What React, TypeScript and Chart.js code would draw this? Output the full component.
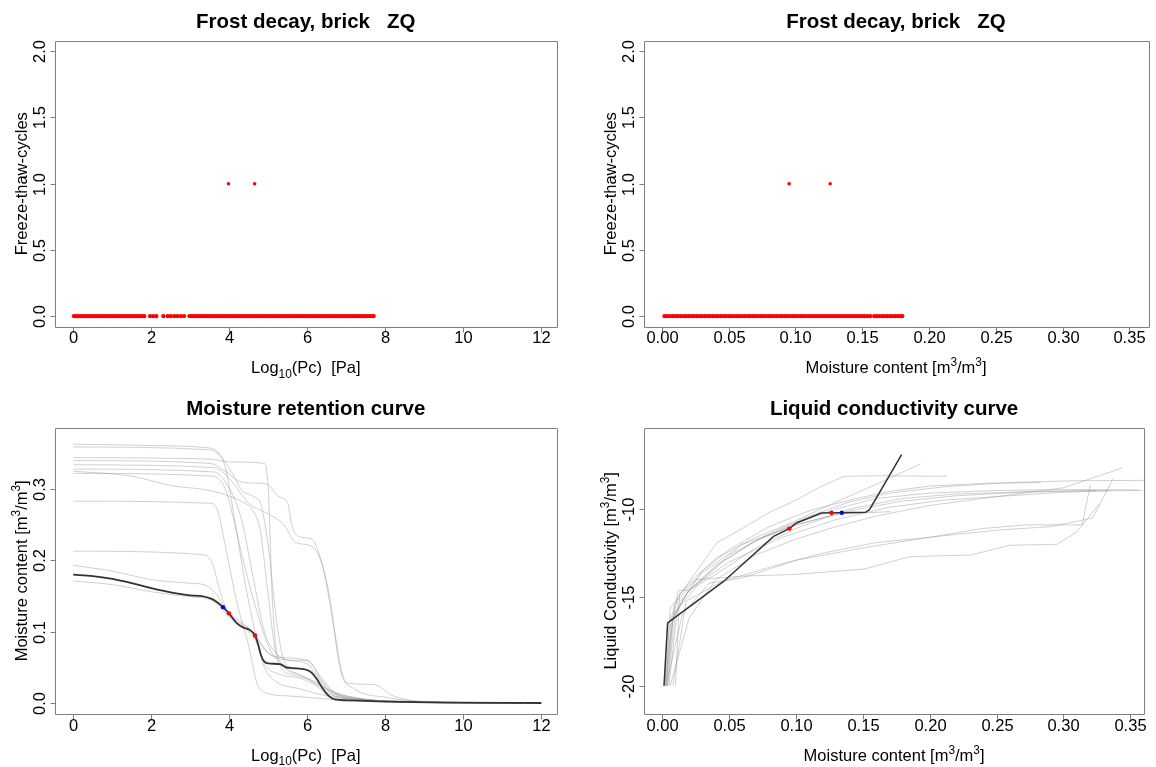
import React, { useEffect, useRef } from "react";
import { Chart, registerables } from "chart.js";
Chart.register(...registerables);

// ---------------- data ----------------
// Panel 1: freeze-thaw cycles vs log10(Pc)
const frostLogPcAtZero = [
  0.02, 0.08, 0.14, 0.2, 0.26, 0.32, 0.38, 0.44, 0.5, 0.56, 0.62, 0.68, 0.74, 0.8, 0.86, 0.92,
  0.98, 1.04, 1.1, 1.16, 1.22, 1.28, 1.34, 1.4, 1.46, 1.52, 1.58, 1.64, 1.7, 1.76, 1.82,
  1.97, 2.05, 2.13, 2.31, 2.42, 2.5, 2.59, 2.67, 2.76, 2.84,
  2.98, 3.04, 3.1, 3.16, 3.22, 3.28, 3.34, 3.4, 3.46, 3.52, 3.58, 3.64, 3.7, 3.76, 3.82, 3.88,
  3.94, 4.0, 4.06, 4.12, 4.18, 4.24, 4.3, 4.36, 4.42, 4.48, 4.54, 4.6, 4.66, 4.72, 4.78, 4.84,
  4.9, 4.96, 5.02, 5.08, 5.14, 5.2, 5.26, 5.32, 5.38, 5.44, 5.5, 5.56, 5.62, 5.68, 5.74, 5.8,
  5.86, 5.92, 5.98, 6.04, 6.1, 6.16, 6.22, 6.28, 6.34, 6.4, 6.46, 6.52, 6.58, 6.64, 6.7, 6.76,
  6.82, 6.88, 6.94, 7.0, 7.06, 7.12, 7.18, 7.24, 7.3, 7.36, 7.42, 7.48, 7.54, 7.6, 7.66, 7.7,
];
const frostLogPcAtOne = [3.98, 4.65];

// Panel 2: freeze-thaw cycles vs moisture content
const frostMoistAtZero = [
  0.002, 0.004, 0.006, 0.008, 0.01, 0.012, 0.014, 0.016, 0.018, 0.02, 0.022, 0.024, 0.026,
  0.028, 0.03, 0.032, 0.034, 0.036, 0.038, 0.04, 0.042, 0.044, 0.046, 0.048, 0.05, 0.052,
  0.054, 0.056, 0.058, 0.06, 0.062, 0.064, 0.066, 0.068, 0.07, 0.072, 0.074, 0.076, 0.078,
  0.08, 0.082, 0.084, 0.086, 0.088, 0.09, 0.092, 0.094, 0.096, 0.098, 0.1, 0.102, 0.104,
  0.106, 0.108, 0.11, 0.112, 0.114, 0.116, 0.118, 0.12, 0.122, 0.124, 0.126, 0.128, 0.13,
  0.132, 0.134, 0.136, 0.138, 0.14, 0.142, 0.144, 0.146, 0.148, 0.15, 0.152, 0.154, 0.156,
  0.159, 0.161, 0.163, 0.165, 0.167, 0.169, 0.171, 0.173, 0.175, 0.177, 0.179, 0.18,
];
const frostMoistAtOne = [0.0953, 0.126];

// Tick values / labels
const logPcTicks = [0, 2, 4, 6, 8, 10, 12];
const logPcTickLabels = ["0", "2", "4", "6", "8", "10", "12"];
const cyclesTicks = [0, 0.5, 1, 1.5, 2];
const cyclesTickLabels = ["0.0", "0.5", "1.0", "1.5", "2.0"];
const moistTicks = [0, 0.05, 0.1, 0.15, 0.2, 0.25, 0.3, 0.35];
const moistTickLabels = ["0.00", "0.05", "0.10", "0.15", "0.20", "0.25", "0.30", "0.35"];
const mrcTicks = [0, 0.1, 0.2, 0.3];
const mrcTickLabels = ["0.0", "0.1", "0.2", "0.3"];
const condTicks = [-20, -15, -10];
const condTickLabels = ["-20", "-15", "-10"];

// Panel 3: moisture retention curves [log10(Pc), moisture]
const mrcBlack: [number, number][] = [
  [0, 0.18], [0.5, 0.178], [1.0, 0.174], [1.5, 0.168], [2.0, 0.161], [2.5, 0.155], [3.0, 0.151],
  [3.3, 0.15], [3.55, 0.146], [3.7, 0.141], [3.84, 0.1344], [3.99, 0.1257], [4.19, 0.112],
  [4.35, 0.106], [4.5, 0.103], [4.6, 0.099], [4.66, 0.0947], [4.74, 0.082], [4.82, 0.066],
  [4.9, 0.058], [5.0, 0.0555], [5.3, 0.0545], [5.45, 0.05], [5.6, 0.049], [5.95, 0.047],
  [6.1, 0.043], [6.25, 0.033], [6.4, 0.02], [6.55, 0.01], [6.7, 0.005], [7.0, 0.0038],
  [8.0, 0.002], [9.5, 0.0006], [12, 0],
];
const mrcGray1: [number, number][] = [
  [0, 0.363], [2, 0.361], [3.4, 0.358], [3.7, 0.352], [3.9, 0.33], [4.1, 0.27], [4.4, 0.17],
  [4.7, 0.09], [4.9, 0.05], [5.2, 0.03], [5.8, 0.02], [6.5, 0.01], [7.5, 0.004], [9, 0.001], [11.5, 0],
];
const mrcGray2: [number, number][] = [
  [0, 0.359], [3.5, 0.355], [3.8, 0.345], [4.1, 0.32], [4.3, 0.3], [4.6, 0.29], [4.8, 0.28],
  [5.0, 0.22], [5.2, 0.12], [5.4, 0.06], [5.8, 0.04], [6.3, 0.025], [7, 0.01], [8, 0.003], [11.5, 0],
];
const mrcGray3: [number, number][] = [
  [0, 0.344], [3.5, 0.342], [4.0, 0.338], [4.9, 0.336], [5.0, 0.3], [5.1, 0.15], [5.25, 0.06],
  [5.6, 0.04], [6.2, 0.03], [6.6, 0.015], [7.5, 0.005], [9, 0.001], [11.5, 0],
];
const mrcGray4: [number, number][] = [
  [0, 0.34], [3.5, 0.336], [3.9, 0.325], [4.3, 0.31], [4.8, 0.308], [5.0, 0.306], [5.25, 0.29],
  [5.5, 0.28], [5.6, 0.25], [5.8, 0.233], [6.1, 0.23], [6.3, 0.21], [6.6, 0.14], [6.8, 0.06],
  [7.0, 0.028], [7.7, 0.026], [8.2, 0.01], [9, 0.002], [11.5, 0],
];
const mrcGray5: [number, number][] = [
  [0, 0.334], [3.6, 0.33], [4.0, 0.315], [4.5, 0.28], [5.0, 0.265], [5.4, 0.25], [5.7, 0.225],
  [6.1, 0.22], [6.4, 0.19], [6.7, 0.1], [6.9, 0.04], [7.2, 0.02], [8, 0.008], [9, 0.002], [11.5, 0],
];
const mrcGray6: [number, number][] = [
  [0, 0.328], [3.6, 0.324], [3.9, 0.31], [4.3, 0.26], [4.6, 0.18], [4.9, 0.1], [5.2, 0.07],
  [5.6, 0.06], [6.0, 0.06], [6.3, 0.04], [6.7, 0.015], [7.5, 0.005], [9, 0.001], [11.5, 0],
];
const mrcGray7: [number, number][] = [
  [0, 0.325], [1.5, 0.318], [2.5, 0.305], [3.5, 0.298], [4.0, 0.29], [4.3, 0.283], [4.6, 0.27],
  [4.8, 0.24], [5.0, 0.15], [5.2, 0.07], [5.6, 0.05], [6.1, 0.045], [6.5, 0.02], [7.2, 0.008],
  [9, 0.001], [11.5, 0],
];
const mrcGray8: [number, number][] = [
  [0, 0.322], [3.6, 0.318], [3.9, 0.3], [4.1, 0.26], [4.4, 0.19], [4.7, 0.13], [5.0, 0.08],
  [5.4, 0.05], [6.0, 0.035], [6.6, 0.012], [7.5, 0.004], [11.5, 0],
];
const mrcGray9: [number, number][] = [
  [0, 0.283], [3.5, 0.28], [3.7, 0.27], [3.9, 0.22], [4.2, 0.14], [4.5, 0.08], [4.7, 0.03],
  [4.9, 0.015], [5.5, 0.01], [7, 0.004], [11, 0],
];
const mrcGray10: [number, number][] = [
  [0, 0.213], [3.3, 0.208], [3.55, 0.198], [3.75, 0.16], [3.9, 0.135], [4.1, 0.122], [4.5, 0.105],
  [4.8, 0.085], [5.0, 0.07], [5.5, 0.06], [6.0, 0.055], [6.3, 0.035], [6.7, 0.01], [8, 0.003], [11.5, 0],
];
const mrcGray11: [number, number][] = [
  [0, 0.193], [1, 0.185], [2, 0.173], [3, 0.168], [3.4, 0.165], [3.7, 0.15], [3.9, 0.132],
  [4.2, 0.115], [4.6, 0.1], [4.9, 0.075], [5.2, 0.065], [5.8, 0.062], [6.1, 0.055], [6.4, 0.03],
  [6.8, 0.01], [8, 0.003], [11.5, 0],
];
const mrcGray12: [number, number][] = [
  [0, 0.171], [1, 0.166], [2, 0.156], [3, 0.149], [3.5, 0.145], [3.8, 0.133], [4.0, 0.12],
  [4.4, 0.105], [4.7, 0.085], [4.9, 0.055], [5.3, 0.04], [5.8, 0.035], [6.2, 0.025], [6.6, 0.008],
  [8, 0.002], [11.5, 0],
];
const mrcRedPoints: [number, number][] = [[3.99, 0.1257], [4.66, 0.0947]];
const mrcBluePoints: [number, number][] = [[3.84, 0.1344]];

// Panel 4: liquid conductivity curves [moisture, log conductivity]
const condBlack: [number, number][] = [
  [0.0014, -20], [0.0041, -16.45], [0.0459, -14.1], [0.0833, -11.55], [0.0951, -11.11],
  [0.1004, -10.79], [0.119, -10.23], [0.1266, -10.21], [0.1343, -10.21], [0.152, -10.19],
  [0.155, -10.04], [0.179, -6.92],
];
const condGray1: [number, number][] = [
  [0.0015, -20], [0.0035, -16.8], [0.012, -15.0], [0.025, -13.6], [0.041, -11.9], [0.06, -11.1],
  [0.08, -10.2], [0.1, -9.5], [0.118, -8.75], [0.136, -8.15], [0.16, -8.12], [0.213, -8.15],
];
const condGray2: [number, number][] = [
  [0.003, -20], [0.006, -15.6], [0.02, -14.2], [0.04, -12.8], [0.07, -11.6], [0.096, -10.8],
  [0.13, -9.6], [0.16, -8.6], [0.193, -7.45],
];
const condGray3: [number, number][] = [
  [0.002, -20], [0.005, -16.8], [0.015, -15.2], [0.03, -13.5], [0.05, -12.3], [0.08, -11.0],
  [0.11, -10.1], [0.14, -9.5], [0.17, -9.0], [0.2, -8.7], [0.24, -8.55], [0.283, -8.5],
];
const condGray4: [number, number][] = [
  [0.003, -20], [0.008, -16.2], [0.02, -14.6], [0.04, -13.2], [0.07, -11.8], [0.1, -10.8],
  [0.13, -10.0], [0.16, -9.4], [0.2, -9.1], [0.25, -8.95], [0.3, -8.9], [0.356, -8.92],
];
const condGray5: [number, number][] = [
  [0.004, -20], [0.01, -15.8], [0.03, -14.0], [0.05, -12.6], [0.08, -11.4], [0.11, -10.4],
  [0.14, -9.6], [0.17, -9.1], [0.21, -8.75], [0.26, -8.5], [0.31, -8.4], [0.3605, -8.38],
];
const condGray6: [number, number][] = [
  [0.005, -20], [0.012, -15.3], [0.025, -14.3], [0.05, -13.0], [0.09, -11.6], [0.13, -10.6],
  [0.17, -9.9], [0.21, -9.5], [0.25, -9.3], [0.3, -8.8], [0.344, -7.68],
];
const condGray7: [number, number][] = [
  [0.003, -20], [0.015, -16.0], [0.035, -14.2], [0.06, -13.9], [0.1, -12.9], [0.15, -12.2],
  [0.2, -11.6], [0.25, -11.2], [0.29, -11.0], [0.31, -10.7], [0.322, -10.5], [0.337, -8.3],
];
const condGray8: [number, number][] = [
  [0.01, -20], [0.013, -14.8], [0.025, -14.0], [0.06, -13.8], [0.1, -13.7], [0.151, -13.4],
  [0.185, -12.7], [0.231, -12.6], [0.26, -12.05], [0.295, -12.0], [0.31, -11.3], [0.327, -9.7],
];
const condGray9: [number, number][] = [
  [0.008, -20], [0.018, -15.2], [0.045, -14.1], [0.08, -13.3], [0.12, -12.5], [0.16, -11.9],
  [0.2, -11.6], [0.24, -11.1], [0.272, -10.9], [0.314, -10.9], [0.32, -8.65],
];
const condGray10: [number, number][] = [
  [0.004, -20], [0.009, -15.4], [0.03, -13.6], [0.06, -12.0], [0.1, -10.9], [0.14, -10.1],
  [0.18, -9.55], [0.22, -9.25], [0.27, -9.05], [0.325, -8.95],
];
const condGray11: [number, number][] = [
  [0.006, -20], [0.02, -16.2], [0.04, -14.0], [0.07, -12.6], [0.1, -11.7], [0.13, -11.0],
  [0.16, -10.4], [0.2, -9.8], [0.25, -9.3], [0.3, -9.05], [0.334, -8.97],
];
const condGray12: [number, number][] = [
  [0.003, -20], [0.007, -16.2], [0.02, -14.6], [0.045, -13.0], [0.07, -11.8], [0.1, -10.9],
  [0.13, -10.3], [0.171, -10.15],
];
const condGray13: [number, number][] = [
  [0.002, -20], [0.006, -17.2], [0.012, -14.6], [0.02, -14.6], [0.04, -13.7], [0.07, -12.2],
  [0.1, -11.1], [0.14, -10.0], [0.18, -9.4], [0.22, -9.15], [0.28, -9.0], [0.359, -8.95],
];
const condRedPoints: [number, number][] = [[0.0951, -11.11], [0.1266, -10.21]];
const condBluePoints: [number, number][] = [[0.1343, -10.21]];

// ---------------- styling / layout ----------------
const W = 1156;
const H = 767;
const FONT = '"Liberation Sans", Arial, Helvetica, sans-serif';
const TEXT = "#000000";
const BOX = "#808080";
const RED = "#ff0000";
const BLUE = "#0000ff";
const GRAY = "rgba(150,150,150,0.45)";
const DARK = "#333333";

type Seg = { t: string; s?: "sub" | "sup" };
type Box = { l: number; t: number; r: number; b: number };

const toPts = (a: [number, number][]) => a.map(([x, y]) => ({ x, y }));

function pointSet(data: { x: number; y: number }[], color: string, r: number) {
  return {
    data,
    showLine: false,
    pointRadius: r,
    pointBackgroundColor: color,
    pointBorderWidth: 0,
    borderColor: color,
  };
}
function lineSet(a: [number, number][], color: string, w: number, smooth: boolean) {
  return {
    data: toPts(a),
    showLine: true,
    pointRadius: 0,
    borderColor: color,
    borderWidth: w,
    fill: false,
    cubicInterpolationMode: smooth ? "monotone" : "default",
    tension: 0,
  };
}

function measureRich(ctx: CanvasRenderingContext2D, segs: Seg[], size: number) {
  let w = 0;
  for (const s of segs) {
    const sz = s.s ? size * 0.72 : size;
    ctx.font = `${sz}px ${FONT}`;
    w += ctx.measureText(s.t).width;
  }
  return w;
}
function drawRich(ctx: CanvasRenderingContext2D, segs: Seg[], cx: number, base: number, size: number) {
  const w = measureRich(ctx, segs, size);
  let x = cx - w / 2;
  ctx.textAlign = "left";
  ctx.textBaseline = "alphabetic";
  for (const s of segs) {
    const sz = s.s ? size * 0.72 : size;
    ctx.font = `${sz}px ${FONT}`;
    const dy = s.s === "sub" ? size * 0.28 : s.s === "sup" ? -size * 0.42 : 0;
    ctx.fillText(s.t, x, base + dy);
    x += ctx.measureText(s.t).width;
  }
}

interface Panel {
  box: Box;
  xr: [number, number];
  yr: [number, number];
  xTicks: number[];
  xLabels: string[];
  yTicks: number[];
  yLabels: string[];
  title: string;
  xTitle: Seg[];
  yTitle: Seg[];
  datasets: any[];
}

const logPcTitle: Seg[] = [{ t: "Log" }, { t: "10", s: "sub" }, { t: "(Pc)  [Pa]" }];
const moistTitle: Seg[] = [
  { t: "Moisture content [m" }, { t: "3", s: "sup" }, { t: "/m" }, { t: "3", s: "sup" }, { t: "]" },
];
const condTitle: Seg[] = [
  { t: "Liquid Conductivity [m" }, { t: "3", s: "sup" }, { t: "/m" }, { t: "3", s: "sup" }, { t: "]" },
];

const grayMRC = [mrcGray1, mrcGray2, mrcGray3, mrcGray4, mrcGray5, mrcGray6, mrcGray7, mrcGray8, mrcGray9, mrcGray10, mrcGray11, mrcGray12];
const grayCond = [condGray1, condGray2, condGray3, condGray4, condGray5, condGray6, condGray7, condGray8, condGray9, condGray10, condGray11, condGray12, condGray13];

const panels: Panel[] = [
  {
    box: { l: 54.6, t: 40.7, r: 557, b: 326.7 },
    xr: [-0.477, 12.4],
    yr: [-0.08, 2.08],
    xTicks: logPcTicks,
    xLabels: logPcTickLabels,
    yTicks: cyclesTicks,
    yLabels: cyclesTickLabels,
    title: "Frost decay, brick   ZQ",
    xTitle: logPcTitle,
    yTitle: [{ t: "Freeze-thaw-cycles" }],
    datasets: [
      pointSet(frostLogPcAtOne.map((x) => ({ x, y: 1 })), RED, 1.8),
      pointSet(frostLogPcAtZero.map((x) => ({ x, y: 0 })), RED, 2.2),
    ],
  },
  {
    box: { l: 643.5, t: 40.7, r: 1148.5, b: 326.7 },
    xr: [-0.0137, 0.3643],
    yr: [-0.08, 2.08],
    xTicks: moistTicks,
    xLabels: moistTickLabels,
    yTicks: cyclesTicks,
    yLabels: cyclesTickLabels,
    title: "Frost decay, brick   ZQ",
    xTitle: moistTitle,
    yTitle: [{ t: "Freeze-thaw-cycles" }],
    datasets: [
      pointSet(frostMoistAtOne.map((x) => ({ x, y: 1 })), RED, 1.8),
      pointSet(frostMoistAtZero.map((x) => ({ x, y: 0 })), RED, 2.2),
    ],
  },
  {
    box: { l: 54.6, t: 427.7, r: 557, b: 714 },
    xr: [-0.477, 12.4],
    yr: [-0.0154, 0.386],
    xTicks: logPcTicks,
    xLabels: logPcTickLabels,
    yTicks: mrcTicks,
    yLabels: mrcTickLabels,
    title: "Moisture retention curve",
    xTitle: logPcTitle,
    yTitle: moistTitle,
    datasets: [
      pointSet(toPts(mrcBluePoints), BLUE, 2.2),
      pointSet(toPts(mrcRedPoints), RED, 2.2),
      lineSet(mrcBlack, DARK, 1.8, true),
      ...grayMRC.map((g) => lineSet(g, GRAY, 1, true)),
    ],
  },
  {
    box: { l: 643.7, t: 427.7, r: 1144.4, b: 714 },
    xr: [-0.0138, 0.3605],
    yr: [-21.6, -5.4],
    xTicks: moistTicks,
    xLabels: moistTickLabels,
    yTicks: condTicks,
    yLabels: condTickLabels,
    title: "Liquid conductivity curve",
    xTitle: moistTitle,
    yTitle: condTitle,
    datasets: [
      pointSet(toPts(condBluePoints), BLUE, 2.2),
      pointSet(toPts(condRedPoints), RED, 2.2),
      lineSet(condBlack, DARK, 1.5, false),
      ...grayCond.map((g) => lineSet(g, GRAY, 1, false)),
    ],
  },
];

function rAxesPlugin(p: Panel) {
  return {
    id: "rAxes",
    afterDraw(chart: any) {
      const ctx: CanvasRenderingContext2D = chart.ctx;
      const xs = chart.scales.x;
      const ys = chart.scales.y;
      const { l, t, r, b } = p.box;
      ctx.save();
      ctx.strokeStyle = BOX;
      ctx.lineWidth = 1;
      ctx.beginPath();
      ctx.rect(Math.round(l) + 0.5, Math.round(t) + 0.5, Math.round(r) - Math.round(l), Math.round(b) - Math.round(t));
      ctx.stroke();
      ctx.fillStyle = TEXT;
      ctx.font = `16.5px ${FONT}`;
      ctx.textAlign = "center";
      ctx.textBaseline = "alphabetic";
      const bb = Math.round(b) + 0.5;
      p.xTicks.forEach((v, i) => {
        const px = Math.round(xs.getPixelForValue(v)) + 0.5;
        ctx.beginPath();
        ctx.moveTo(px, bb);
        ctx.lineTo(px, bb + 5);
        ctx.stroke();
        ctx.fillText(p.xLabels[i], px, b + 16.5);
      });
      const ll = Math.round(l) + 0.5;
      p.yTicks.forEach((v, i) => {
        const py = Math.round(ys.getPixelForValue(v)) + 0.5;
        ctx.beginPath();
        ctx.moveTo(ll - 5, py);
        ctx.lineTo(ll, py);
        ctx.stroke();
        ctx.save();
        ctx.translate(l - 10, py);
        ctx.rotate(-Math.PI / 2);
        ctx.textAlign = "center";
        ctx.fillText(p.yLabels[i], 0, 0);
        ctx.restore();
      });
      ctx.font = `bold 20.5px ${FONT}`;
      ctx.textAlign = "center";
      ctx.fillText(p.title, (l + r) / 2, t - 13);
      drawRich(ctx, p.xTitle, (l + r) / 2, b + 46.5, 16.5);
      ctx.save();
      ctx.translate(l - 28, (t + b) / 2);
      ctx.rotate(-Math.PI / 2);
      drawRich(ctx, p.yTitle, 0, 0, 16.5);
      ctx.restore();
      ctx.restore();
    },
  };
}

function makeChart(canvas: HTMLCanvasElement, p: Panel) {
  return new Chart(canvas, {
    type: "scatter",
    data: { datasets: p.datasets },
    options: {
      animation: false,
      responsive: false,
      maintainAspectRatio: false,
      devicePixelRatio: 1,
      events: [],
      layout: {
        padding: { left: p.box.l, top: p.box.t, right: W - p.box.r, bottom: H - p.box.b },
      },
      plugins: {
        legend: { display: false },
        tooltip: { enabled: false },
        title: { display: false },
      },
      scales: {
        x: { type: "linear", min: p.xr[0], max: p.xr[1], display: false },
        y: { type: "linear", min: p.yr[0], max: p.yr[1], display: false },
      },
    } as any,
    plugins: [rAxesPlugin(p)],
  });
}

export default function App() {
  const refs = useRef<(HTMLCanvasElement | null)[]>([]);
  useEffect(() => {
    const charts = panels.map((p, i) => makeChart(refs.current[i] as HTMLCanvasElement, p));
    return () => charts.forEach((c) => c.destroy());
  }, []);
  return (
    <div style={{ position: "absolute", left: 0, top: 0, width: W, height: H, background: "#ffffff" }}>
      {panels.map((_, i) => (
        <canvas
          key={i}
          ref={(el) => {
            refs.current[i] = el;
          }}
          width={W}
          height={H}
          style={{ position: "absolute", left: 0, top: 0, width: W, height: H }}
        />
      ))}
    </div>
  );
}
